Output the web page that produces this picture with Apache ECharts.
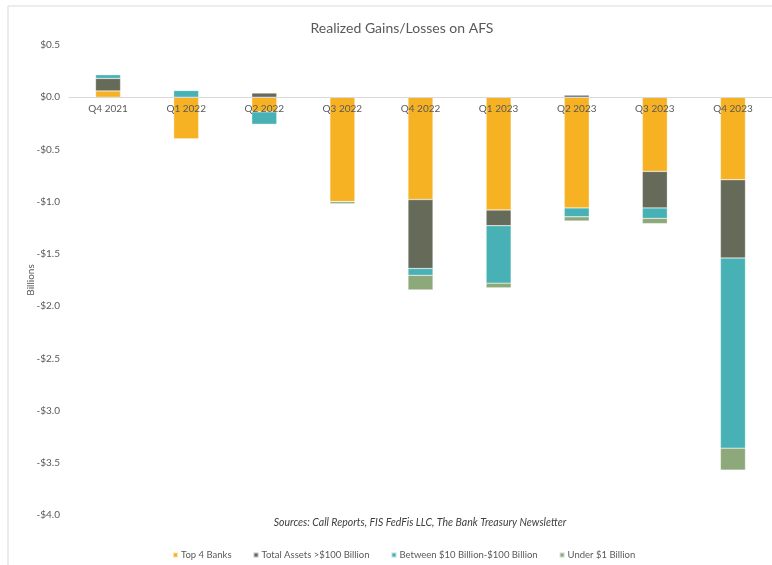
<!DOCTYPE html>
<html>
<head>
<meta charset="utf-8">
<script src="https://cdn.jsdelivr.net/npm/echarts@6/dist/echarts.min.js"></script>
<style>
  html, body { margin: 0; padding: 0; background: #fff; }
  #chart { width: 772px; height: 565px; }
</style>
</head>
<body>
<div id="chart"></div>
<script>
// 季度
var quarters = ['Q4 2021', 'Q1 2022', 'Q2 2022', 'Q3 2022', 'Q4 2022', 'Q1 2023', 'Q2 2023', 'Q3 2023', 'Q4 2023'];
// 各组数值（十亿美元）
var top4Banks   = [0.06, -0.40, -0.14, -1.00, -0.98, -1.08, -1.06, -0.71, -0.79];
var over100B    = [0.12, 0, 0.04, 0, -0.66, -0.15, 0.02, -0.35, -0.75];
var between10B  = [0.035, 0.065, -0.12, 0, -0.065, -0.55, -0.085, -0.10, -1.82];
var under1B     = [0.005, 0, 0, -0.02, -0.14, -0.045, -0.04, -0.05, -0.21];
var seriesNames = ['Top 4 Banks', 'Total Assets >$100 Billion', 'Between $10 Billion-$100 Billion', 'Under $1 Billion'];
var colors = ['#F7B224', '#666A58', '#47B1B5', '#8DA87B'];

var yMin = -4, yMax = 0.5;
var gridTop = 45, gridBottom = 50;

var chart = echarts.init(document.getElementById('chart'));
var font = 'Lato, "DejaVu Sans", sans-serif';

// x轴放在0刻度处（标签跟着轴线走）
var gridH = 565 - gridTop - gridBottom;
var zeroOffset = -gridH * (0 - yMin) / (yMax - yMin);

function makeSeries(name, data, color) {
  return {
    name: name,
    type: 'bar',
    stack: 'afs',
    barWidth: '32%',
    data: data,
    itemStyle: {
      color: color,
      borderColor: 'rgba(255,255,255,0.6)',
      borderWidth: 0.5
    }
  };
}

var option = {
  animation: false,
  color: colors,
  textStyle: { fontFamily: font },
  title: {
    text: 'Realized Gains/Losses on AFS',
    left: 397,
    textAlign: 'center',
    top: 16,
    textStyle: { fontFamily: font, fontSize: 14, fontWeight: 'normal', color: '#595959' }
  },
  grid: { left: 69, right: 0, top: gridTop, bottom: gridBottom },
  legend: {
    data: seriesNames,
    left: 167,
    top: 545,
    itemWidth: 5,
    itemHeight: 5,
    itemGap: 21,
    icon: 'rect',
    textStyle: { fontFamily: font, fontSize: 9.5, color: '#595959', padding: [0, 0, 0, -2] }
  },
  xAxis: {
    type: 'category',
    data: quarters,
    position: 'bottom',
    offset: zeroOffset,
    axisLine: { onZero: false, lineStyle: { color: '#d9d9d9', width: 1 } },
    axisTick: { show: false },
    axisLabel: { color: '#595959', fontSize: 10, margin: 7, fontFamily: font },
    z: 10
  },
  yAxis: {
    type: 'value',
    min: yMin,
    max: yMax,
    interval: 0.5,
    axisLine: { show: false },
    axisTick: { show: false },
    splitLine: { show: false },
    axisLabel: {
      color: '#595959',
      fontSize: 10,
      margin: 9,
      fontFamily: font,
      formatter: function (v) {
        return (v < 0 ? '-' : '') + '$' + Math.abs(v).toFixed(1);
      }
    }
  },
  graphic: [
    {
      type: 'rect',
      shape: { x: 8, y: 6, width: 900, height: 700 },
      style: { fill: 'none', stroke: '#d9d9d9', lineWidth: 1 },
      silent: true
    },
    {
      // 纵轴标题
      type: 'text',
      x: 31,
      y: 280,
      rotation: Math.PI / 2,
      style: {
        text: 'Billions',
        fontFamily: font,
        fontSize: 10,
        fill: '#595959',
        textAlign: 'center',
        textVerticalAlign: 'middle'
      }
    },
    {
      type: 'text',
      x: 420,
      y: 523,
      style: {
        text: 'Sources: Call Reports, FIS FedFis LLC, The Bank Treasury Newsletter',
        fontFamily: font,
        fontStyle: 'italic',
        fontSize: 10.5,
        fill: '#404040',
        textAlign: 'center',
        textVerticalAlign: 'middle'
      }
    }
  ],
  series: [
    makeSeries(seriesNames[0], top4Banks, colors[0]),
    makeSeries(seriesNames[1], over100B, colors[1]),
    makeSeries(seriesNames[2], between10B, colors[2]),
    makeSeries(seriesNames[3], under1B, colors[3])
  ]
};

chart.setOption(option);
window.addEventListener('resize', function () { chart.resize(); });
</script>
</body>
</html>
